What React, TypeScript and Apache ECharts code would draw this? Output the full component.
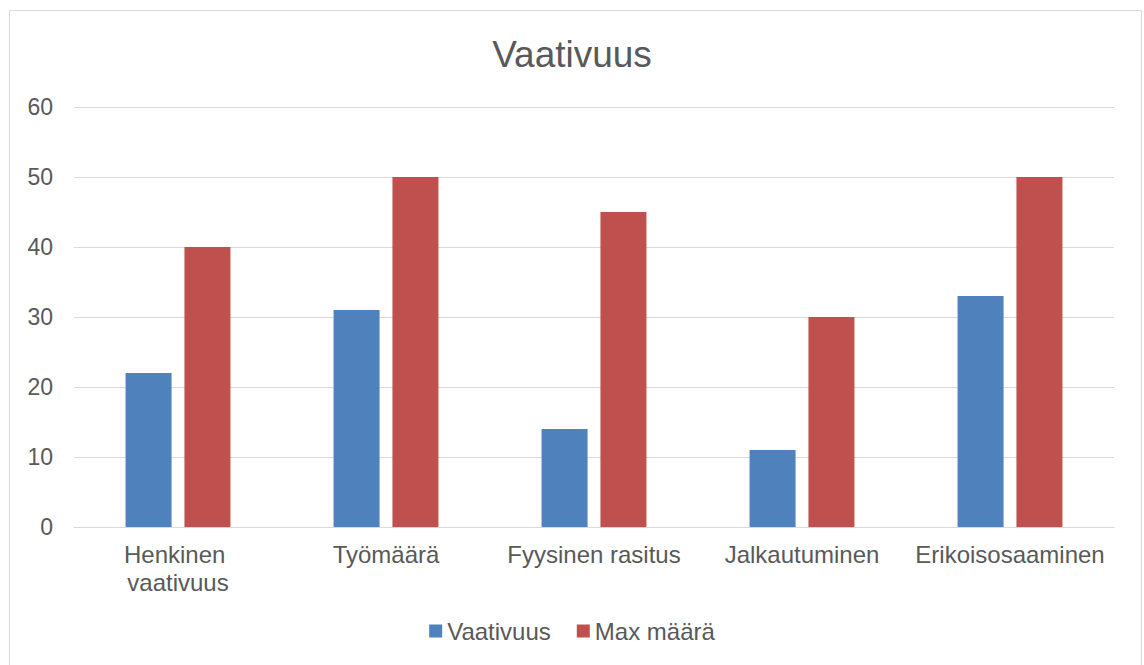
import React, { useEffect, useRef } from "react";
import * as echarts from "echarts";

const categories = ["Henkinen vaativuus", "Työmäärä", "Fyysinen rasitus", "Jalkautuminen", "Erikoisosaaminen"];
const vaativuus = [22, 31, 14, 11, 33];
const maxMaara = [40, 50, 45, 30, 50];
const seriesNames = ["Vaativuus", "Max määrä"];
const titleText = "Vaativuus";

export default function App() {
  const ref = useRef<HTMLDivElement>(null);
  useEffect(() => {
    const chart = echarts.init(ref.current!, null, { renderer: "svg" });
    const font = "'Liberation Sans', Arial, sans-serif";
    chart.setOption({
      animation: false,
      backgroundColor: "#ffffff",
      textStyle: { fontFamily: font },
      title: {
        text: titleText,
        left: "center",
        top: 31,
        textStyle: { fontFamily: font, fontSize: 37, fontWeight: "normal", color: "#595959" },
      },
      graphic: [
        {
          type: "rect",
          shape: { x: 9.5, y: 10.5, width: 1132, height: 700 },
          style: { fill: "none", stroke: "#D9D9D9", lineWidth: 1 },
          silent: true,
        },
      ],
      legend: {
        data: seriesNames,
        bottom: 17,
        left: "center",
        itemWidth: 13,
        itemHeight: 13,
        itemGap: 26,
        icon: "rect",
        textStyle: { fontFamily: font, fontSize: 24, color: "#595959" },
      },
      grid: { left: 74, right: 30, top: 107, bottom: 138, containLabel: false },
      xAxis: {
        type: "category",
        data: categories,
        axisLine: { lineStyle: { color: "#D9D9D9", width: 1 } },
        axisTick: { show: false },
        axisLabel: {
          interval: 0,
          margin: 13,
          fontFamily: font,
          fontSize: 24,
          color: "#595959",
          width: 200,
          overflow: "break",
          lineHeight: 28,
        },
      },
      yAxis: {
        type: "value",
        min: 0,
        max: 60,
        interval: 10,
        axisLine: { show: false },
        axisTick: { show: false },
        splitLine: { lineStyle: { color: "#D9D9D9", width: 1 } },
        axisLabel: { margin: 21, fontFamily: font, fontSize: 23, color: "#595959" },
      },
      series: [
        {
          name: seriesNames[0],
          type: "bar",
          data: vaativuus,
          barWidth: 46,
          barGap: "28%",
          itemStyle: { color: "#4F81BD" },
        },
        {
          name: seriesNames[1],
          type: "bar",
          data: maxMaara,
          barWidth: 46,
          barGap: "28%",
          itemStyle: { color: "#C0504D" },
        },
      ],
    });
    return () => chart.dispose();
  }, []);
  return (
    <div
      ref={ref}
      style={{ position: "fixed", left: 0, top: 0, width: 1144, height: 665 }}
    />
  );
}
